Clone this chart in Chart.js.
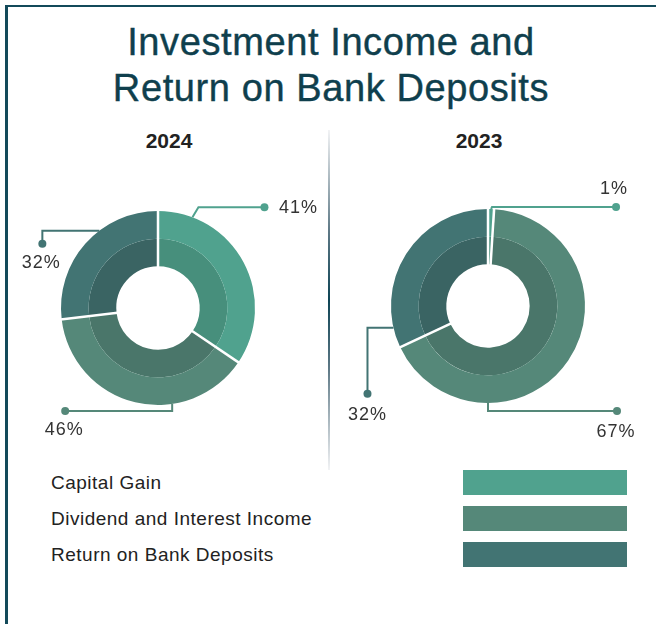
<!DOCTYPE html>
<html>
<head>
<meta charset="utf-8">
<script src="https://cdn.jsdelivr.net/npm/chart.js@4.4.0/dist/chart.umd.min.js"></script>
<style>
  body { margin: 0; background: #fff; font-family: "Liberation Sans", Arial, sans-serif; }
  #page { position: relative; width: 656px; height: 624px; overflow: hidden; }
  #frame { position: absolute; left: 5px; top: 5px; right: -10px; bottom: -10px;
           border-top: 2px solid #134a5a; border-left: 3px solid #134a5a; }
  #title { position: absolute; left: 0; top: 19px; width: 662px; text-align: center;
           font-size: 38px; line-height: 46px; letter-spacing: 0.6px; color: #0f3f4d;
           -webkit-text-stroke: 0.4px #0f3f4d; }
  .year { position: absolute; top: 129px; width: 120px; text-align: center;
          font-size: 21px; font-weight: bold; color: #222; }
  #divider { position: absolute; left: 328px; top: 130px; width: 2px; height: 340px;
             background: linear-gradient(to bottom, #f2f3f5, #5d7885 30%, #0e4455 50%, #5d7885 70%, #f2f3f5); }
  .box { position: absolute; top: 150px; height: 320px; }
  #legend { position: absolute; left: 51px; top: 470px; width: 580px; }
  .row { position: relative; height: 36px; }
  .row span { position: absolute; left: 0; top: 2px; font-size: 19px; letter-spacing: 0.5px; color: #222; }
  .row i { position: absolute; left: 412px; top: 0; width: 164px; height: 25px; }
</style>
</head>
<body>
<div id="page">
  <div id="frame"></div>
  <div id="title">Investment Income and<br>Return on Bank Deposits</div>
  <div class="year" style="left:109px">2024</div>
  <div class="year" style="left:419px">2023</div>
  <div id="divider"></div>
  <div class="box" style="left:0;width:329px"><canvas id="pie2024" width="329" height="320"></canvas></div>
  <div class="box" style="left:329px;width:327px"><canvas id="pie2023" width="327" height="320"></canvas></div>
  <div id="legend"></div>
</div>
<script>
// categories and yearly shares (percent)
const categories = ['Capital Gain', 'Dividend and Interest Income', 'Return on Bank Deposits'];
const years = ['2024', '2023'];
const values2024 = [41, 46, 32];
const values2023 = [1, 67, 32];

// outer ring colours, and the darker inner band
const outerColors = ['#50a28e', '#558879', '#427473'];
const innerColors = ['#478f7c', '#4a766a', '#3a6463'];

// leader lines: anchor angle on the outer edge (deg, clockwise from top),
// path steps relative to the anchor, label offset from the dot
const leaders2024 = [
  { angle: 20.8, path: [[6, -10], [72, -10]], label: [34, 1] },
  { angle: 171.6, path: [[0, 7], [-107, 7]], label: [-1, 19] },
  { angle: 322.8, path: [[-57, 0], [-57, 13]], label: [-1, 19] }
];
const leaders2023 = [
  { angle: 1.8, path: [[1, -2], [125, -2]], label: [-2, -18] },
  { angle: 180, path: [[0, 8], [129, 8]], label: [-1, 21] },
  { angle: 257, path: [[-26, 0], [-26, 66]], label: [0, 21] }
];

// white separators across both rings at every slice edge
const separators = {
  id: 'separators',
  afterDatasetsDraw(chart) {
    const outer = chart.getDatasetMeta(0).data;
    const inner = chart.getDatasetMeta(1).data;
    const ctx = chart.ctx;
    ctx.save();
    ctx.strokeStyle = '#ffffff';
    ctx.lineWidth = 2.5;
    outer.forEach(function (arc, i) {
      const r0 = inner[i].innerRadius - 1;
      const r1 = arc.outerRadius + 1;
      const a = arc.startAngle;
      ctx.beginPath();
      ctx.moveTo(arc.x + r0 * Math.cos(a), arc.y + r0 * Math.sin(a));
      ctx.lineTo(arc.x + r1 * Math.cos(a), arc.y + r1 * Math.sin(a));
      ctx.stroke();
    });
    ctx.restore();
  }
};

// callout lines with a dot and the percentage label
const callouts = {
  id: 'callouts',
  afterDraw(chart, args, opts) {
    const arcs = chart.getDatasetMeta(0).data;
    const values = chart.data.datasets[0].data;
    const ctx = chart.ctx;
    ctx.save();
    opts.leaders.forEach(function (ld, i) {
      const arc = arcs[i];
      const a = (ld.angle - 90) * Math.PI / 180;
      const ax = arc.x + arc.outerRadius * Math.cos(a);
      const ay = arc.y + arc.outerRadius * Math.sin(a);
      ctx.strokeStyle = outerColors[i];
      ctx.fillStyle = outerColors[i];
      ctx.lineWidth = 2;
      ctx.beginPath();
      ctx.moveTo(ax, ay);
      let px = ax, py = ay;
      ld.path.forEach(function (p) {
        px = ax + p[0];
        py = ay + p[1];
        ctx.lineTo(px, py);
      });
      ctx.stroke();
      ctx.beginPath();
      ctx.arc(px, py, 4, 0, Math.PI * 2);
      ctx.fill();
      ctx.fillStyle = '#333';
      ctx.font = '18px "Liberation Sans", Arial, sans-serif';
      if ('letterSpacing' in ctx) ctx.letterSpacing = '1px';
      ctx.textAlign = 'center';
      ctx.textBaseline = 'middle';
      ctx.fillText(values[i] + '%', px + ld.label[0], py + ld.label[1]);
    });
    ctx.restore();
  }
};

function drawDonut(id, values, leaders, padding) {
  const ctx = document.getElementById(id).getContext('2d');
  return new Chart(ctx, {
    type: 'doughnut',
    data: {
      labels: categories,
      datasets: [
        { data: values, backgroundColor: outerColors, borderWidth: 0, weight: 1 },
        { data: values, backgroundColor: innerColors, borderWidth: 0, weight: 1 }
      ]
    },
    options: {
      responsive: false,
      animation: false,
      events: [],
      cutout: '43%',
      layout: { padding: padding },
      plugins: {
        legend: { display: false },
        tooltip: { enabled: false },
        callouts: { leaders: leaders }
      }
    },
    plugins: [separators, callouts]
  });
}

drawDonut('pie2024', values2024, leaders2024, { left: 61, right: 74, top: 61, bottom: 65 });
drawDonut('pie2023', values2023, leaders2023, { left: 62, right: 71, top: 59, bottom: 67 });

// legend rows: name on the left, colour bar on the right
const legend = document.getElementById('legend');
categories.forEach(function (name, i) {
  const row = document.createElement('div');
  row.className = 'row';
  const label = document.createElement('span');
  label.textContent = name;
  const bar = document.createElement('i');
  bar.style.background = outerColors[i];
  row.appendChild(label);
  row.appendChild(bar);
  legend.appendChild(row);
});
</script>
</body>
</html>
